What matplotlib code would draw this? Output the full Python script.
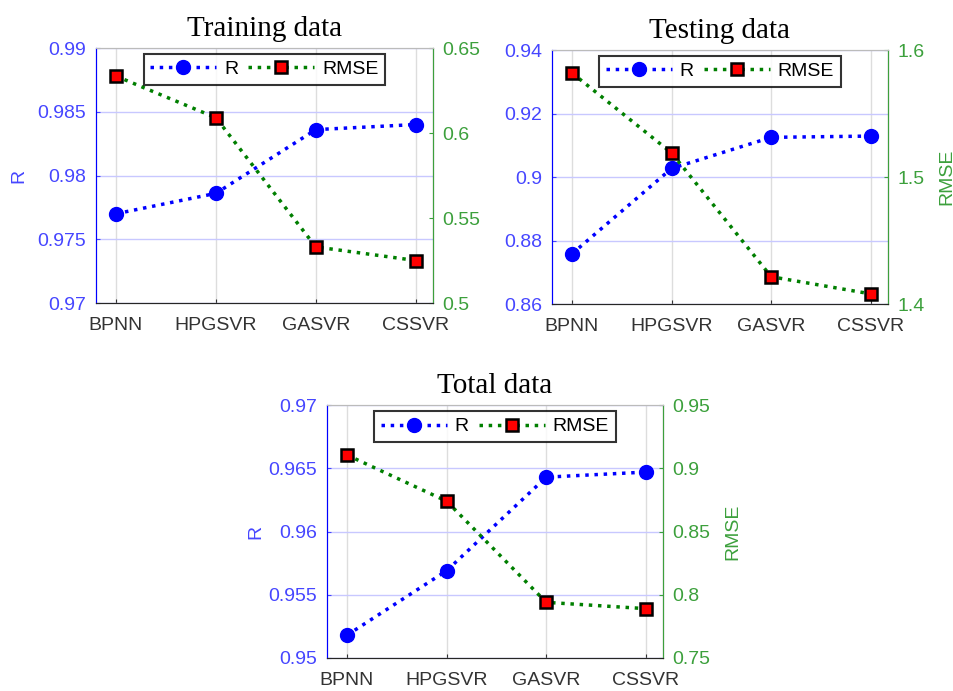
import matplotlib
matplotlib.use("Agg")
import matplotlib.pyplot as plt

models = ["BPNN", "HPGSVR", "GASVR", "CSSVR"]

train_r = [0.9770, 0.9786, 0.9836, 0.9840]
train_rmse = [0.6335, 0.609, 0.533, 0.525]

test_r = [0.8758, 0.9027, 0.9125, 0.9129]
test_rmse = [1.582, 1.519, 1.4215, 1.408]

total_r = [0.9518, 0.9569, 0.9643, 0.9647]
total_rmse = [0.9105, 0.874, 0.794, 0.789]

BLUE = "#0000ff"
BLUE_TXT = "#4646ff"
GREEN = "#007f00"
GREEN_TXT = "#3ca03c"

plt.rcParams["font.family"] = ["Liberation Sans", "DejaVu Sans"]

fig = plt.figure(figsize=(9.54, 6.91), dpi=100)


def panel(rect, title, r, rmse, rlim, rticks, elim, eticks, r_pad, show_e_label):
    ax = fig.add_axes(rect)
    x = list(range(len(models)))
    l1, = ax.plot(x, r, ":", color=BLUE, lw=2.5, marker="o", ms=10,
                  mfc=BLUE, mec=BLUE, label="R", zorder=3)
    ax.set_xlim(-0.2, 3.17)
    ax.set_ylim(*rlim)
    ax.set_yticks(rticks)
    ax.set_yticklabels([f"{t:g}" for t in rticks])
    ax.set_xticks(x)
    ax.set_xticklabels(models)
    ax.tick_params(axis="y", colors=BLUE_TXT, labelsize=14, direction="in", length=3, pad=7)
    ax.tick_params(axis="x", colors="#333333", labelsize=14, direction="in", length=3, pad=10)
    ax.grid(axis="y", color="#c8c8ff", lw=1)
    ax.grid(axis="x", color="#dddddd", lw=1)
    ax.set_axisbelow(True)
    ax.spines["left"].set_color(BLUE)
    ax.spines["top"].set_color("#bbbbbb")
    ax.spines["bottom"].set_color("#262626")
    if r_pad is not None:
        ax.set_ylabel("R", color=BLUE_TXT, fontsize=14, labelpad=r_pad)

    ax2 = ax.twinx()
    l2, = ax2.plot(x, rmse, ":", color=GREEN, lw=2.5, marker="s", ms=8,
                   mfc="red", mec="black", mew=1.8, label="RMSE", zorder=3)
    ax2.set_ylim(*elim)
    ax2.set_yticks(eticks)
    ax2.set_yticklabels([f"{t:g}" for t in eticks])
    ax2.tick_params(axis="y", colors=GREEN_TXT, labelsize=14, direction="in", length=3, pad=7)
    ax2.spines["right"].set_color(GREEN_TXT)
    ax2.spines["left"].set_color(BLUE)
    ax2.spines["top"].set_color("#bbbbbb")
    ax2.spines["bottom"].set_color("#262626")
    if show_e_label:
        ax2.set_ylabel("RMSE", color=GREEN_TXT, fontsize=14, labelpad=10)

    leg = ax2.legend([l1, l2], ["R", "RMSE"], ncol=2, loc="upper center",
                     bbox_to_anchor=(0.5, 1.0), borderaxespad=0.3, fontsize=14,
                     frameon=True, fancybox=False, handlelength=3.4,
                     columnspacing=0.5, handletextpad=0.4, borderpad=0.35)
    leg.get_frame().set_edgecolor("black")
    leg.get_frame().set_linewidth(1.5)
    ax.set_title(title, fontsize=21, family="Liberation Serif", pad=9)


panel([0.1006, 0.5615, 0.353, 0.369], "Training data", train_r, train_rmse,
      (0.97, 0.99), [0.97, 0.975, 0.98, 0.985, 0.99],
      (0.5, 0.65), [0.5, 0.55, 0.6, 0.65], 7, False)

panel([0.5786, 0.560, 0.352, 0.3676], "Testing data", test_r, test_rmse,
      (0.86, 0.94), [0.86, 0.88, 0.9, 0.92, 0.94],
      (1.4, 1.6), [1.4, 1.5, 1.6], None, True)

panel([0.3428, 0.0478, 0.352, 0.366], "Total data", total_r, total_rmse,
      (0.95, 0.97), [0.95, 0.955, 0.96, 0.965, 0.97],
      (0.75, 0.95), [0.75, 0.8, 0.85, 0.9, 0.95], 3, True)

fig.savefig("out.png", dpi=100)
